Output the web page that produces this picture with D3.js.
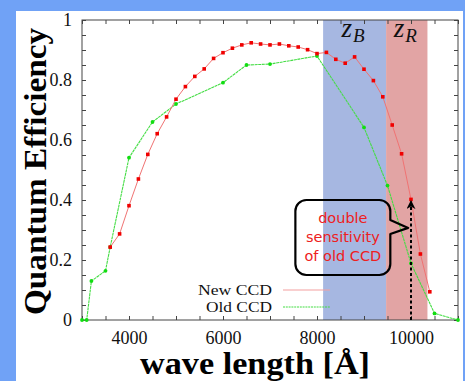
<!DOCTYPE html>
<html>
<head>
<meta charset="utf-8">
<script src="https://cdn.jsdelivr.net/npm/d3@7"></script>
<style>
  html, body { margin: 0; padding: 0; background: #70a2f6; }
  svg { display: block; }
</style>
</head>
<body>
<svg id="chart" width="465" height="381"></svg>
<script>
// wavelength [Å] and quantum efficiency
const newWave = [3600, 3800, 4000, 4200, 4400, 4600, 4800, 5000, 5200, 5400, 5600, 5800,
  6000, 6200, 6400, 6600, 6800, 7000, 7200, 7400, 7600, 7800, 8000, 8200, 8400, 8600,
  8800, 9000, 9200, 9400, 9600, 9800, 10000, 10200, 10400];
const newQE = [0.243, 0.287, 0.381, 0.47, 0.552, 0.621, 0.677, 0.736, 0.778, 0.812, 0.837, 0.872,
  0.891, 0.906, 0.917, 0.924, 0.92, 0.917, 0.92, 0.914, 0.91, 0.901, 0.888, 0.892, 0.869, 0.856,
  0.877, 0.836, 0.798, 0.744, 0.65, 0.554, 0.402, 0.22, 0.094];

const oldWave = [3000, 3100, 3200, 3500, 3600, 4000, 4500, 5000, 6000, 6500, 7000, 8000,
  9000, 9500, 10000, 10500, 11000];
const oldQE = [0, 0, 0.13, 0.164, 0.243, 0.541, 0.66, 0.72, 0.791, 0.85, 0.853, 0.88,
  0.642, 0.448, 0.189, 0.022, 0];

const seriesNames = ["New CCD", "Old CCD"];

// filter bands (Å)
const bandNames = ["B", "R"];
const bandStart = [8130, 9470];
const bandEnd = [9470, 10350];

const xTickLabels = [4000, 6000, 8000, 10000];
const yTickLabels = [0, 0.2, 0.4, 0.6, 0.8, 1];

// annotation: arrow at 10000 Å up to the new CCD value, callout box in data units
const arrowWave = 10000;
const arrowQE = [0, 0.40];
const calloutLines = ["double", "sensitivity", "of old CCD"];
const calloutBox = { x0: 7540, x1: 9560, y0: 0.40, y1: 0.15, tipX: 9940, tipY: 0.307 };

const svg = d3.select("#chart");
const margin = { top: 20, right: 7, bottom: 61, left: 82 };
const W = 465, H = 381;

// white panel on blue background
svg.append("rect").attr("x", 16).attr("y", 11).attr("width", 447).attr("height", H - 11)
  .attr("fill", "#ffffff");

const x = d3.scaleLinear().domain([3000, 11000]).range([margin.left, W - margin.right]);
const y = d3.scaleLinear().domain([0, 1]).range([H - margin.bottom, margin.top]);

const serif = "'Liberation Serif', 'Times New Roman', serif";

// bands
const bandColors = ["#a6b7e1", "#e2a4a4"];
svg.selectAll(".band")
  .data(bandNames)
  .enter()
  .append("rect")
  .attr("class", "band")
  .attr("x", (d, i) => x(bandStart[i]))
  .attr("width", (d, i) => x(bandEnd[i]) - x(bandStart[i]))
  .attr("y", y(1))
  .attr("height", y(0) - y(1))
  .attr("fill", (d, i) => bandColors[i]);

// band labels
const bandLabels = svg.selectAll(".bandLabel")
  .data(bandNames)
  .enter()
  .append("text")
  .attr("class", "bandLabel")
  .attr("x", (d, i) => (x(bandStart[i]) + x(bandEnd[i])) / 2 - 13)
  .attr("y", 37)
  .attr("font-family", serif)
  .attr("font-style", "italic")
  .attr("fill", "#111");
bandLabels.append("tspan").attr("font-size", 27).text("z");
bandLabels.append("tspan").attr("font-size", 19).attr("dy", 5).attr("dx", 1).text(d => d);

// axes with ticks inside, mirrored
const minorX = d3.range(3000, 11001, 500);
const minorY = d3.range(0, 1.0001, 0.05);

function drawAxis(axis, transform) {
  const g = svg.append("g").attr("transform", transform).call(axis);
  g.select(".domain").remove();
  g.selectAll("line").attr("stroke", "#444");
  return g;
}

drawAxis(d3.axisBottom(x).tickValues(minorX).tickSize(-4).tickFormat(""), `translate(0,${y(0)})`);
drawAxis(d3.axisTop(x).tickValues(minorX).tickSize(-4).tickFormat(""), `translate(0,${y(1)})`);
drawAxis(d3.axisLeft(y).tickValues(minorY).tickSize(-4).tickFormat(""), `translate(${x(3000)},0)`);
drawAxis(d3.axisRight(y).tickValues(minorY).tickSize(-4).tickFormat(""), `translate(${x(11000)},0)`);

const xl = drawAxis(d3.axisBottom(x).tickValues(xTickLabels).tickSize(0).tickPadding(11).tickFormat(d3.format("d")),
  `translate(0,${y(0)})`);
xl.selectAll("text").attr("font-family", serif).attr("font-size", 18).attr("fill", "#111");

const yl = drawAxis(d3.axisLeft(y).tickValues(yTickLabels).tickSize(0).tickPadding(10)
  .tickFormat(d => d === 0 || d === 1 ? d3.format("d")(d) : d3.format(".1f")(d)),
  `translate(${x(3000)},0)`);
yl.selectAll("text").attr("font-family", serif).attr("font-size", 18).attr("fill", "#111");

// frame
svg.append("rect")
  .attr("x", x(3000)).attr("y", y(1))
  .attr("width", x(11000) - x(3000)).attr("height", y(0) - y(1))
  .attr("fill", "none").attr("stroke", "#444").attr("stroke-width", 1);

// axis titles
svg.append("text")
  .attr("transform", `translate(46,${(28 + 315) / 2}) rotate(-90)`)
  .attr("text-anchor", "middle")
  .attr("font-family", serif)
  .attr("font-weight", "bold")
  .attr("font-size", 32)
  .attr("textLength", 287)
  .attr("lengthAdjust", "spacingAndGlyphs")
  .attr("fill", "#000")
  .text("Quantum Efficiency");

svg.append("text")
  .attr("x", 255)
  .attr("y", 374)
  .attr("text-anchor", "middle")
  .attr("font-family", serif)
  .attr("font-weight", "bold")
  .attr("font-size", 31)
  .attr("textLength", 230)
  .attr("lengthAdjust", "spacingAndGlyphs")
  .attr("fill", "#000")
  .text("wave length [Å]");

// lines
const line = d3.line().x(d => x(d[0])).y(d => y(d[1]));
const oldData = oldWave.map((w, i) => [w, oldQE[i]]);
const newData = newWave.map((w, i) => [w, newQE[i]]);

svg.append("path").datum(oldData)
  .attr("d", line).attr("fill", "none")
  .attr("stroke", "#44dd44").attr("stroke-width", 1.1)
  .attr("stroke-dasharray", "3,0.6");

svg.append("path").datum(newData)
  .attr("d", line).attr("fill", "none")
  .attr("stroke", "#f07373").attr("stroke-width", 1);

svg.selectAll(".oldPt")
  .data(oldData)
  .enter()
  .append("circle")
  .attr("class", "oldPt")
  .attr("cx", d => x(d[0]))
  .attr("cy", d => y(d[1]))
  .attr("r", 1.9)
  .attr("fill", "#11dd11");

svg.selectAll(".newPt")
  .data(newData)
  .enter()
  .append("rect")
  .attr("class", "newPt")
  .attr("x", d => x(d[0]) - 1.8)
  .attr("y", d => y(d[1]) - 1.8)
  .attr("width", 3.6)
  .attr("height", 3.6)
  .attr("fill", "#f00000");

// legend
const legendColors = ["#f4a0a0", "#44dd44"];
const legendDash = [null, "2,0.8"];
const legendWidth = [74, 66];
seriesNames.forEach((name, i) => {
  const ly = 290 + i * 17;
  svg.append("text")
    .attr("x", 272).attr("y", ly + 5)
    .attr("text-anchor", "end")
    .attr("font-family", serif)
    .attr("font-size", 15.2)
    .attr("textLength", legendWidth[i])
    .attr("lengthAdjust", "spacingAndGlyphs")
    .attr("fill", "#111")
    .text(name);
  svg.append("line")
    .attr("x1", 283).attr("x2", 330)
    .attr("y1", ly).attr("y2", ly)
    .attr("stroke", legendColors[i])
    .attr("stroke-width", 1.2)
    .attr("stroke-dasharray", legendDash[i]);
});

// dashed arrow
svg.append("defs").append("marker")
  .attr("id", "arrowhead")
  .attr("viewBox", "0 0 10 10")
  .attr("refX", 9).attr("refY", 5)
  .attr("markerWidth", 4.5).attr("markerHeight", 4.5)
  .attr("markerUnits", "strokeWidth")
  .attr("orient", "auto")
  .append("path").attr("d", "M0,0 L10,5 L0,10 L3,5 Z").attr("fill", "#000");

svg.append("line")
  .attr("x1", x(arrowWave)).attr("x2", x(arrowWave))
  .attr("y1", y(arrowQE[0])).attr("y2", y(arrowQE[1]) + 1)
  .attr("stroke", "#000").attr("stroke-width", 2)
  .attr("stroke-dasharray", "3,2.5")
  .attr("marker-end", "url(#arrowhead)");

// callout bubble
const bx0 = x(calloutBox.x0), bx1 = x(calloutBox.x1);
const by0 = y(calloutBox.y0), by1 = y(calloutBox.y1);
const tx = x(calloutBox.tipX), ty = y(calloutBox.tipY);
const r = 11;
const bubble = d3.path();
bubble.moveTo(bx0 + r, by0);
bubble.lineTo(bx1 - r, by0);
bubble.arcTo(bx1, by0, bx1, by0 + r, r);
bubble.lineTo(bx1, by0 + 20);
bubble.lineTo(tx, ty);
bubble.lineTo(bx1, by0 + 34);
bubble.lineTo(bx1, by1 - r);
bubble.arcTo(bx1, by1, bx1 - r, by1, r);
bubble.lineTo(bx0 + r, by1);
bubble.arcTo(bx0, by1, bx0, by1 - r, r);
bubble.lineTo(bx0, by0 + r);
bubble.arcTo(bx0, by0, bx0 + r, by0, r);
bubble.closePath();
svg.append("path")
  .attr("d", bubble.toString())
  .attr("fill", "none")
  .attr("stroke", "#000")
  .attr("stroke-width", 2.2)
  .attr("stroke-linejoin", "round");

svg.selectAll(".callout")
  .data(calloutLines)
  .enter()
  .append("text")
  .attr("class", "callout")
  .attr("x", (bx0 + bx1) / 2)
  .attr("y", (d, i) => by0 + 23 + i * 19)
  .attr("text-anchor", "middle")
  .attr("font-family", "'DejaVu Sans', sans-serif")
  .attr("font-size", 14.5)
  .attr("fill", "#ee2020")
  .text(d => d);
</script>
</body>
</html>
